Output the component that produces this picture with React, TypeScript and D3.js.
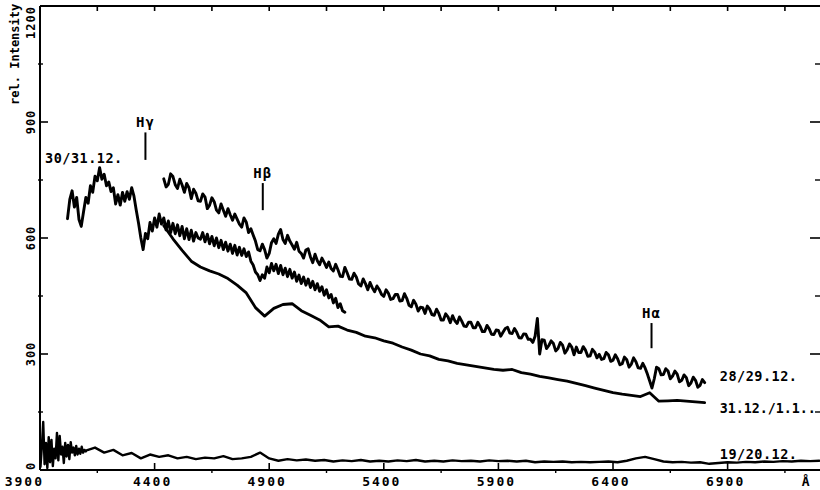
import React from 'react';
import * as d3 from 'd3';

const W = 820;
const H = 490;

// wavelength grid definitions (Å)
const L_2829_START = 4440;
const L_2829_STEP = 10;
const V_2829 = [
  753, 732, 739, 766, 759, 738, 728, 752, 737, 718, 741, 730, 702, 726, 716, 696, 695, 714, 706, 676,
  685, 704, 694, 672, 665, 688, 672, 656, 676, 660, 646, 662, 649, 636, 628, 652, 641, 614, 624, 608,
  592, 570, 567, 584, 570, 548, 560, 588, 598, 586, 610, 622, 596, 586, 607, 592, 582, 571, 589, 566,
  560, 548, 569, 572, 551, 536, 558, 541, 531, 548, 537, 524, 538, 521, 515, 532, 518, 501, 500, 524,
  510, 494, 493, 509, 499, 481, 476, 494, 482, 466, 485, 471, 461, 476, 467, 454, 449, 466, 457, 441,
  443, 454, 454, 437, 438, 456, 444, 426, 422, 439, 429, 411, 421, 420, 405, 424, 416, 402, 400, 416,
  405, 388, 388, 404, 396, 381, 399, 386, 379, 396, 385, 372, 371, 382, 382, 368, 368, 382, 372, 358,
  358, 374, 365, 351, 350, 362, 361, 346, 356, 366, 369, 354, 353, 366, 356, 342, 341, 352, 351, 338,
  338, 330, 346, 392, 300, 337, 336, 314, 322, 334, 327, 308, 314, 330, 323, 302, 311, 326, 318, 298,
  318, 304, 304, 319, 310, 294, 295, 312, 305, 290, 299, 286, 288, 304, 298, 281, 284, 298, 288, 272,
  275, 292, 285, 266, 274, 290, 280, 264, 263, 276, 264, 248, 230, 212, 236, 266, 262, 246, 247, 262,
  256, 236, 243, 256, 248, 228, 232, 246, 239, 218, 225, 240, 232, 214, 219, 234, 226,
];

const L_3031_START = 4020;
const L_3031_STEP = 10;
const V_3031 = [
  650, 700, 722, 680, 705, 648, 630, 668, 705, 690, 735, 718, 760, 748, 782, 752, 765, 735, 745, 720,
  730, 688, 712, 685, 718, 695, 720, 700, 730, 708, 672, 638, 600, 570, 612, 598, 640, 618, 652, 628,
  662, 636, 652, 621, 644, 614, 638, 611, 634, 606, 630, 598, 624, 596, 620, 592, 614, 600, 597, 614,
  590, 610, 585, 604, 580, 600, 575, 594, 570, 589, 566, 584, 560, 581, 556, 576, 555, 572, 552, 564,
  540, 530, 512, 505, 490, 505, 496, 525, 510, 534, 515, 532, 508, 529, 505, 522, 500, 519, 496, 512,
  488, 504, 482, 499, 478, 494, 472, 488, 466, 482, 462, 474, 452, 466, 445, 454, 432, 444, 420, 430,
  412, 408,
];

const L_3112_START = 4440;
const L_3112_STEP = 40;
const V_3112 = [
  632, 598, 568, 540, 525, 515, 507, 495, 478, 458,
  420, 398, 418, 428, 430, 412, 400, 388, 370, 372,
  362, 356, 346, 342, 334, 328, 318, 310, 300, 295,
  286, 282, 276, 272, 268, 264, 260, 258, 260, 252,
  248, 242, 238, 234, 230, 224, 218, 212, 206, 200,
  196, 193, 190, 200, 178, 179, 180, 178, 176, 174,
];

const L_1920A_START = 3902;
const L_1920A_STEP = 6;
const V_1920A = [
  8, 60, 124, 15, 70, 5, 85, 20, 78, 10,
  55, 30, 96, 25, 88, 40, 60, 18, 70, 35,
  65, 28, 72, 45, 58, 38, 62, 40, 55, 42,
  60, 45, 52, 48,
];
const L_1920B_START = 4100;
const L_1920B_STEP = 40;
const V_1920B = [
  50, 58, 45, 52, 38, 44, 30, 40, 34, 38,
  30, 34, 28, 32, 30, 36, 28, 30, 34, 45,
  30, 24, 28, 25, 27, 24, 26, 22, 25, 23,
  26, 22, 24, 22, 25, 23, 26, 22, 24, 22,
  25, 23, 24, 22, 25, 23, 24, 22, 24, 20,
  22, 21, 22, 20, 21, 20, 21, 22, 20, 24,
  30, 34, 28, 22, 20, 21, 19, 20, 16, 18,
  20, 19, 21, 20, 22, 21, 23, 22, 24, 23,
  24,
];

const X_MAJOR = [3900, 4400, 4900, 5400, 5900, 6400, 6900];
const X_MAJOR_LABELS = ['3900', '4400', '4900', '5400', '5900', '6400', '6900'];
const X_MINOR = [4150, 4650, 5150, 5650, 6150, 6650, 7150];
const Y_MAJOR = [0, 300, 600, 900, 1200];
const Y_MAJOR_LABELS = ['0', '300', '600', '900', '1200'];
const Y_MINOR = [150, 450, 750, 1050];

const SERIES_LABELS = [
  { text: '30/31.12.', lambda: 3922, value: 794 },
  { text: '28/29.12.', lambda: 6866, value: 230 },
  { text: '31.12./1.1..', lambda: 6866, value: 147 },
  { text: '19/20.12.', lambda: 6866, value: 28 },
];

const LINE_MARKERS = [
  { name: 'Hγ', lambda: 4360, top: 886, bottom: 802 },
  { name: 'Hβ', lambda: 4872, top: 755, bottom: 672 },
  { name: 'Hα', lambda: 6568, top: 393, bottom: 315 },
];

const FONT = '"DejaVu Sans Mono", monospace';

function toPoints(start: number, step: number, vals: number[]): [number, number][] {
  return vals.map((v, i) => [start + i * step, v]);
}

export default function App() {
  const x = d3.scaleLinear().domain([3900, 7300]).range([40, 819.3]);
  const y = d3.scaleLinear().domain([0, 1200]).range([470, 6]);
  const line = d3
    .line<[number, number]>()
    .x((d) => x(d[0]))
    .y((d) => y(d[1]));

  const series = [
    toPoints(L_2829_START, L_2829_STEP, V_2829),
    toPoints(L_3031_START, L_3031_STEP, V_3031),
    toPoints(L_3112_START, L_3112_STEP, V_3112),
    [
      ...toPoints(L_1920A_START, L_1920A_STEP, V_1920A),
      ...toPoints(L_1920B_START, L_1920B_STEP, V_1920B),
    ],
  ];
  const widths = [2.9, 2.9, 2.8, 2.4];

  const x0 = x(3900);
  const xr = 820;
  const yTop = y(1200);
  const yBot = y(0);

  return (
    <svg
      width={W}
      height={H}
      style={{ position: 'absolute', left: 0, top: 0, background: '#fff' }}
      fontFamily={FONT}
      fontWeight="bold"
    >
      <rect x={0} y={0} width={W} height={H} fill="#fff" />
      {/* frame */}
      <line x1={x0} y1={yTop} x2={xr} y2={yTop} stroke="#000" strokeWidth={2} />
      <line x1={x0} y1={yTop} x2={x0} y2={yBot} stroke="#000" strokeWidth={2} />
      <line x1={x0} y1={yBot} x2={xr} y2={yBot} stroke="#000" strokeWidth={2} />

      {/* top ticks */}
      {[...X_MAJOR.slice(1), ...X_MINOR].map((t) => (
        <line key={'tt' + t} x1={x(t)} x2={x(t)} y1={yTop} y2={yTop + 5} stroke="#000" strokeWidth={1.6} />
      ))}
      {/* bottom ticks */}
      {X_MAJOR.slice(1).map((t) => (
        <line key={'bt' + t} x1={x(t)} x2={x(t)} y1={yBot} y2={yBot - 7} stroke="#000" strokeWidth={1.6} />
      ))}
      {X_MINOR.map((t) => (
        <line key={'bm' + t} x1={x(t)} x2={x(t)} y1={yBot} y2={yBot + 3} stroke="#000" strokeWidth={1.4} />
      ))}
      {/* left ticks */}
      {Y_MAJOR.slice(1, 4).map((t) => (
        <line key={'lt' + t} x1={x0} x2={x0 + 8} y1={y(t)} y2={y(t)} stroke="#000" strokeWidth={1.6} />
      ))}
      {Y_MINOR.map((t) => (
        <line key={'lm' + t} x1={x0 - 2} x2={x0 + 3} y1={y(t)} y2={y(t)} stroke="#000" strokeWidth={1.4} />
      ))}
      {/* right ticks */}
      {Y_MAJOR.slice(1, 4).map((t) => (
        <line key={'rt' + t} x1={xr - 10} x2={xr} y1={y(t)} y2={y(t)} stroke="#000" strokeWidth={1.6} />
      ))}
      {Y_MINOR.map((t) => (
        <line key={'rm' + t} x1={xr - 5} x2={xr} y1={y(t)} y2={y(t)} stroke="#000" strokeWidth={1.4} />
      ))}

      {/* x tick labels */}
      {X_MAJOR.map((t, i) => (
        <text
          key={'xl' + t}
          x={i === 0 ? x(t) + 4 : x(t) - 2}
          y={486}
          textAnchor={i === 0 ? 'end' : 'middle'}
          fontSize={13}
          letterSpacing={2}
        >
          {X_MAJOR_LABELS[i]}
        </text>
      ))}
      <text x={x(7240)} y={486} textAnchor="middle" fontSize={13}>
        Å
      </text>

      {/* y tick labels */}
      {Y_MAJOR.map((t, i) => (
        <text
          key={'yl' + t}
          transform={`translate(35,${y(t)}) rotate(-90)`}
          textAnchor={i === 0 ? 'start' : i === Y_MAJOR.length - 1 ? 'end' : 'middle'}
          fontSize={12}
          letterSpacing={1}
        >
          {Y_MAJOR_LABELS[i]}
        </text>
      ))}
      <text
        transform={`translate(19,${y(1075)}) rotate(-90)`}
        textAnchor="middle"
        fontSize={12}
      >
        rel. Intensity
      </text>

      {/* spectra */}
      {series.map((s, i) => (
        <path
          key={'s' + i}
          d={line(s) || ''}
          fill="none"
          stroke="#000"
          strokeWidth={widths[i]}
          strokeLinejoin="round"
          strokeLinecap="round"
        />
      ))}

      {/* line markers */}
      {LINE_MARKERS.map((m) => (
        <g key={m.name}>
          <text x={x(m.lambda)} y={y(m.top)} textAnchor="middle" fontSize={14} letterSpacing={1}>
            {m.name}
          </text>
          <line
            x1={x(m.lambda)}
            x2={x(m.lambda)}
            y1={y(m.top) + 5}
            y2={y(m.bottom)}
            stroke="#000"
            strokeWidth={2}
          />
        </g>
      ))}

      {/* series labels */}
      {SERIES_LABELS.map((l, i) => (
        <text
          key={l.text}
          x={x(l.lambda)}
          y={y(l.value)}
          fontSize={i === 2 ? 13.3 : 13.5}
          letterSpacing={i === 2 ? 0 : 0.5}
        >
          {l.text}
        </text>
      ))}
    </svg>
  );
}
